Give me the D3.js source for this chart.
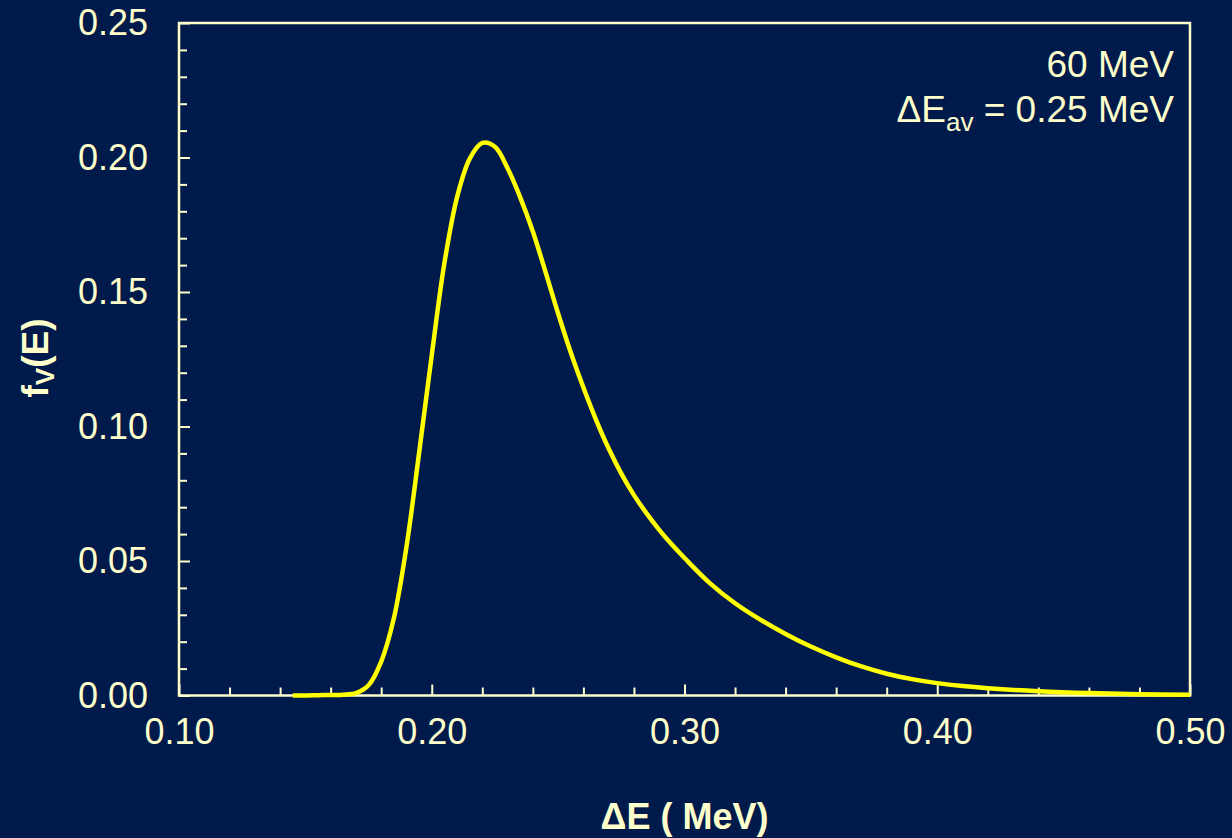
<!DOCTYPE html>
<html>
<head>
<meta charset="utf-8">
<script src="https://cdn.jsdelivr.net/npm/d3@7"></script>
<style>
  html, body { margin: 0; padding: 0; background: #001a4c; }
  svg { display: block; }
  text { font-family: "Liberation Sans", Arial, sans-serif; fill: #ffffcc; }
</style>
</head>
<body>
<svg id="chart" width="1232" height="838"></svg>
<script>
// Energy-loss distribution f_V(E) for 60 MeV particles
const energy = [0.145, 0.150, 0.155, 0.160, 0.165, 0.170, 0.175, 0.180, 0.185, 0.190,
                0.195, 0.200, 0.205, 0.210, 0.215, 0.220, 0.225, 0.230, 0.235, 0.240,
                0.245, 0.250, 0.255, 0.260, 0.265, 0.270, 0.275, 0.280, 0.285, 0.290,
                0.295, 0.300, 0.310, 0.320, 0.330, 0.340, 0.350, 0.360, 0.370, 0.380,
                0.390, 0.400, 0.410, 0.420, 0.440, 0.460, 0.480, 0.500];
const fv     = [0.0000, 0.0000, 0.0001, 0.0002, 0.0003, 0.0009, 0.0038, 0.0126, 0.0287, 0.0553,
                0.0902, 0.1265, 0.1607, 0.1852, 0.1995, 0.2054, 0.2040, 0.1960, 0.1852, 0.1725,
                0.1575, 0.1420, 0.1275, 0.1145, 0.1025, 0.0918, 0.0825, 0.0745, 0.0677, 0.0616,
                0.0561, 0.0511, 0.0418, 0.0343, 0.0282, 0.0229, 0.0182, 0.0142, 0.0108, 0.0081,
                0.0061, 0.0046, 0.0035, 0.0027, 0.0016, 0.0009, 0.0005, 0.0003];

const xMajor = [0.10, 0.20, 0.30, 0.40, 0.50];
const xMinor = [0.12, 0.14, 0.16, 0.18, 0.22, 0.24, 0.26, 0.28, 0.32, 0.34, 0.36, 0.38, 0.42, 0.44, 0.46, 0.48];
const yMajor = [0.00, 0.05, 0.10, 0.15, 0.20, 0.25];
const yMinor = [0.01, 0.02, 0.03, 0.04, 0.06, 0.07, 0.08, 0.09, 0.11, 0.12, 0.13, 0.14,
                0.16, 0.17, 0.18, 0.19, 0.21, 0.22, 0.23, 0.24];

const cream = "#ffffcc";
const svg = d3.select("#chart");
const plotLeft = 179, plotRight = 1190, plotTop = 23, plotBottom = 695.5;

const x = d3.scaleLinear().domain([0.10, 0.50]).range([plotLeft, plotRight]);
const y = d3.scaleLinear().domain([0, 0.25]).range([plotBottom, plotTop]);

svg.append("rect").attr("width", 1232).attr("height", 838).attr("fill", "#001a4c");

// Frame
svg.append("rect")
  .attr("x", plotLeft).attr("y", plotTop)
  .attr("width", plotRight - plotLeft).attr("height", plotBottom - plotTop)
  .attr("fill", "none").attr("stroke", cream).attr("stroke-width", 2.5);

function styleAxis(g) {
  g.select(".domain").remove();
  g.selectAll("line").attr("stroke", cream).attr("stroke-width", 2);
  g.selectAll("text").attr("fill", cream).style("font-size", "36px")
    .style("font-family", "'Liberation Sans', Arial, sans-serif");
}

// X axis: minor and major ticks pointing inward
svg.append("g").attr("transform", `translate(0,${plotBottom})`)
  .call(d3.axisBottom(x).tickValues(xMinor).tickSize(-8).tickSizeOuter(0).tickFormat(""))
  .call(styleAxis);
svg.append("g").attr("transform", `translate(0,${plotBottom})`)
  .call(d3.axisBottom(x).tickValues(xMajor).tickSize(-11).tickSizeOuter(0)
    .tickPadding(23).tickFormat(d3.format(".2f")))
  .call(styleAxis);

// Y axis
svg.append("g").attr("transform", `translate(${plotLeft},0)`)
  .call(d3.axisLeft(y).tickValues(yMinor).tickSize(-8).tickSizeOuter(0).tickFormat(""))
  .call(styleAxis);
svg.append("g").attr("transform", `translate(${plotLeft},0)`)
  .call(d3.axisLeft(y).tickValues(yMajor).tickSize(-11).tickSizeOuter(0)
    .tickPadding(31).tickFormat(d3.format(".2f")))
  .call(styleAxis);

// Curve
const data = energy.map((e, i) => ({ e, f: fv[i] }));
const line = d3.line().x(d => x(d.e)).y(d => y(Math.max(0, d.f))).curve(d3.curveCatmullRom.alpha(0.5));
svg.append("path").datum(data)
  .attr("d", line)
  .attr("fill", "none").attr("stroke", "#ffff00").attr("stroke-width", 4.5)
  .attr("stroke-linejoin", "round");

// Annotation
const ann = svg.append("g").attr("text-anchor", "end").style("font-size", "37px");
ann.append("text").attr("x", 1174).attr("y", 77).text("60 MeV");
const t2 = ann.append("text").attr("x", 1174).attr("y", 122);
t2.append("tspan").text("ΔE");
t2.append("tspan").attr("dy", 9).style("font-size", "26px").text("av");
t2.append("tspan").attr("dy", -9).text(" = 0.25 MeV");

// Axis titles
svg.append("text")
  .attr("x", (plotLeft + plotRight) / 2).attr("y", 829)
  .attr("text-anchor", "middle")
  .style("font-size", "36px").style("font-weight", "bold")
  .text("ΔE ( MeV)");

const yt = svg.append("text")
  .attr("transform", "translate(48,358) rotate(-90)")
  .attr("text-anchor", "middle")
  .style("font-size", "37px").style("font-weight", "bold");
yt.append("tspan").text("f");
yt.append("tspan").attr("dy", 6).style("font-size", "26px").text("V");
yt.append("tspan").attr("dy", -6).text("(E)");
</script>
</body>
</html>
